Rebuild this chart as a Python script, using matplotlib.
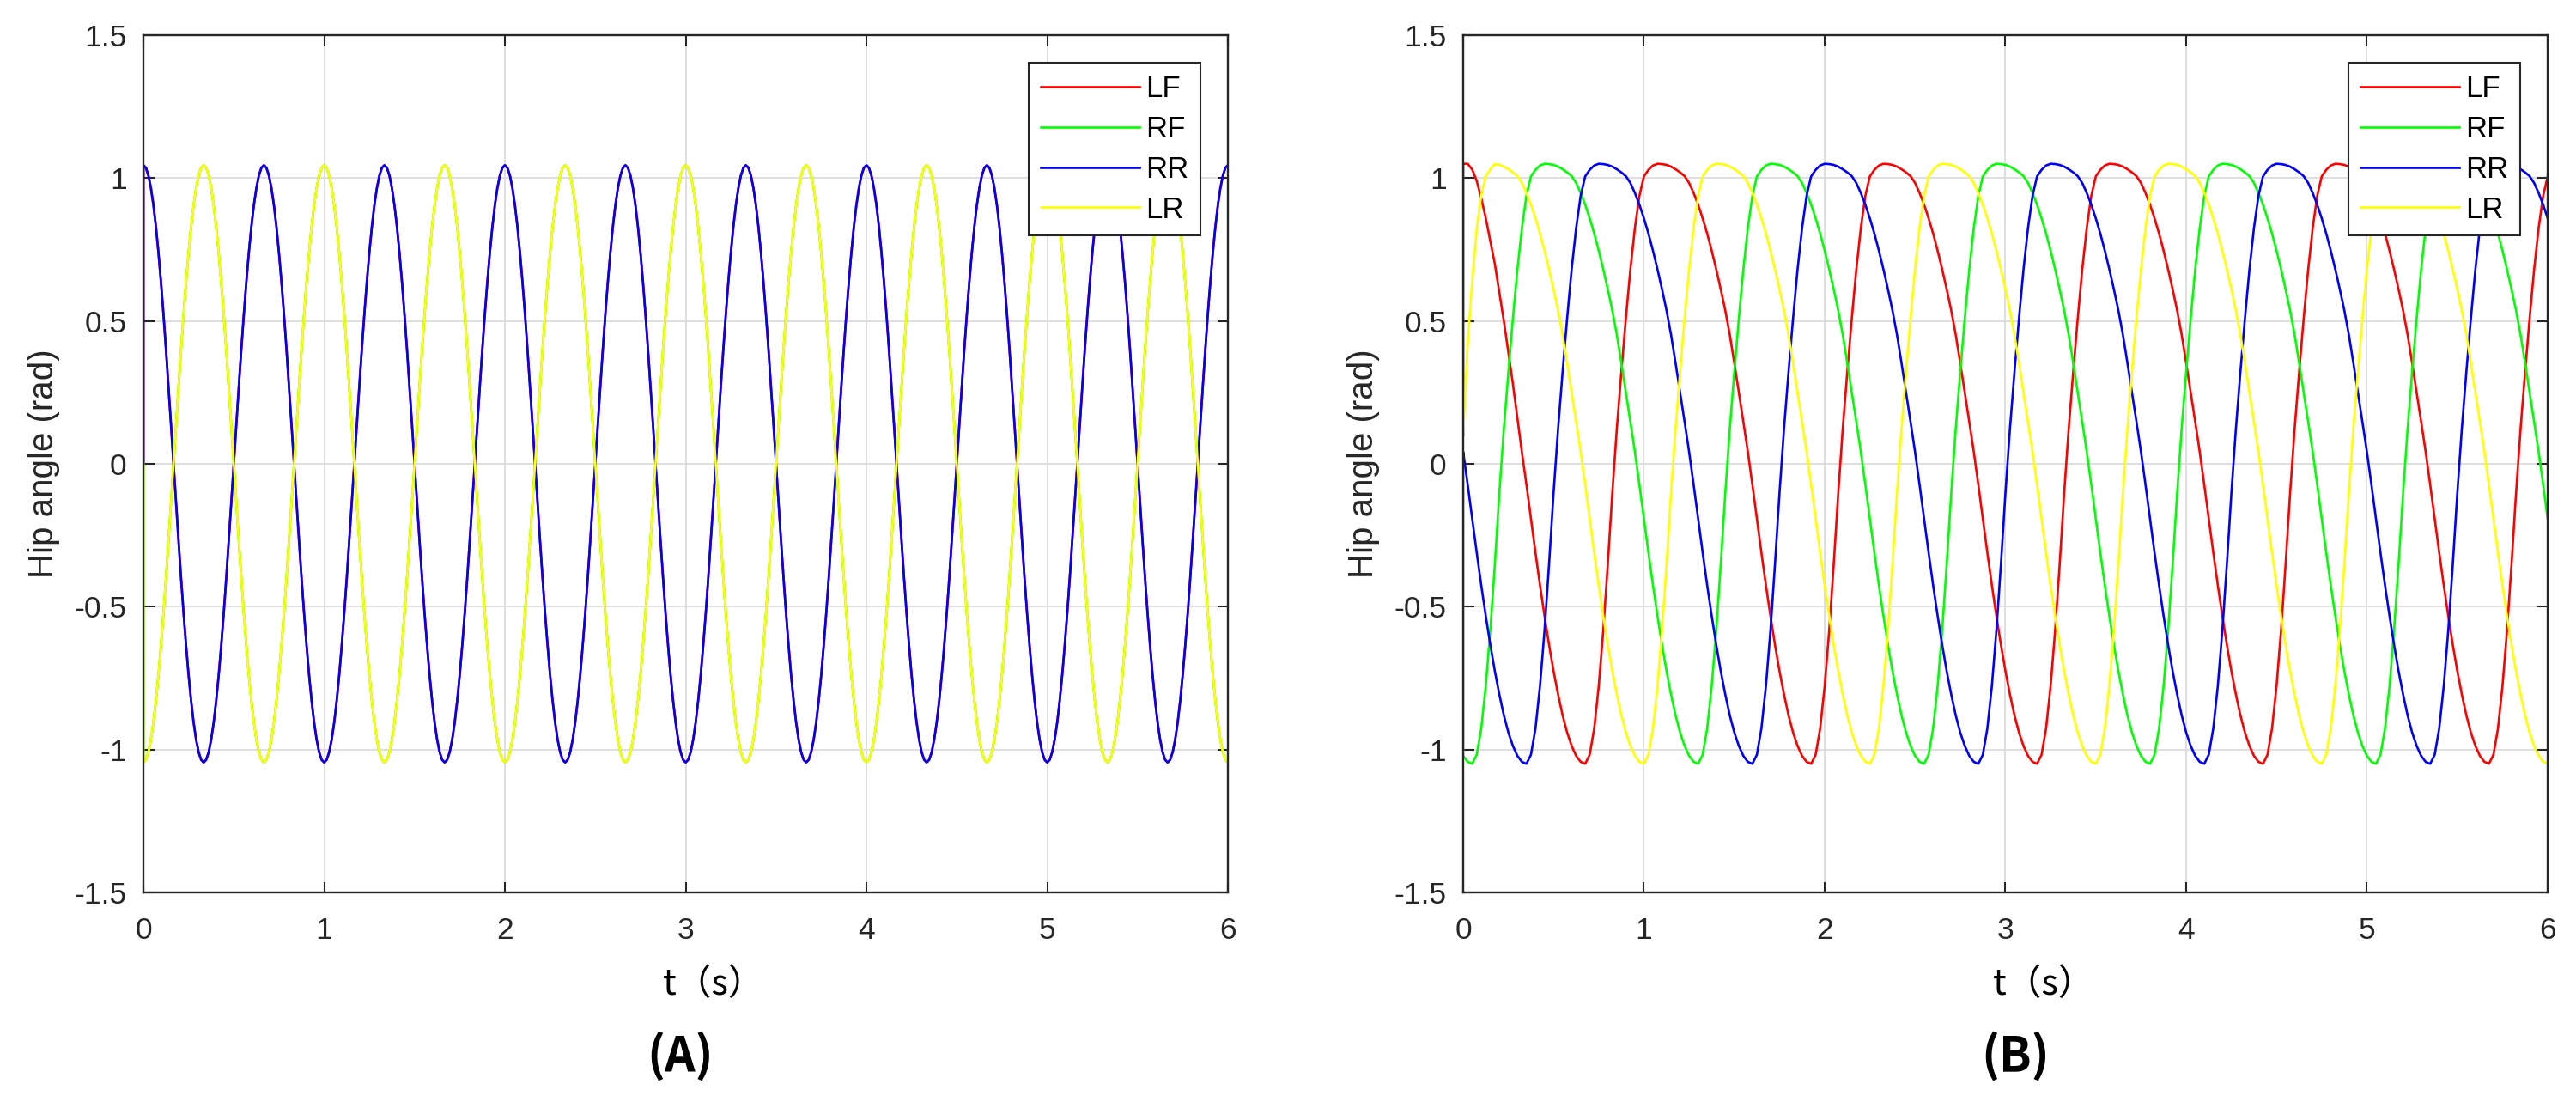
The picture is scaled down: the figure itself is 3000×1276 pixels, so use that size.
import matplotlib.pyplot as plt
import numpy as np

plt.rcParams['font.family'] = ['Liberation Sans', 'DejaVu Sans']
plt.rcParams['axes.unicode_minus'] = False

# ---------------- data ----------------
legs = ['LF', 'RF', 'RR', 'LR']
t_end = 6.0

# (A) trot: one cycle of the hip angle (rad), starting at the trough
trot_period = 2.0 / 3.0
trot_cycle = [-1.045, -1.036, -1.009, -0.965, -0.905, -0.829, -0.739, -0.636,
              -0.523, -0.400, -0.270, -0.136, 0.0, 0.136, 0.270, 0.400,
              0.523, 0.636, 0.739, 0.829, 0.905, 0.965, 1.009, 1.036,
              1.045, 1.036, 1.009, 0.965, 0.905, 0.829, 0.739, 0.636,
              0.523, 0.400, 0.270, 0.136, 0.0, -0.136, -0.270, -0.400,
              -0.523, -0.636, -0.739, -0.829, -0.905, -0.965, -1.009, -1.036]
trot_trough = [0.333, 0.0, 0.333, 0.0]     # time of a trough for LF, RF, RR, LR
trot_start = [0.0, 0.0, 0.0, 0.0]          # value at t=0
trot_lead = [[], [], [], []]               # first samples (start-up), none here

# (B) walk: one cycle (fast swing, slow stance), starting at the trough
walk_period = 1.25
walk_cycle = [-1.050, -1.018, -0.926, -0.778, -0.584, -0.353, -0.103, 0.122,
              0.321, 0.508, 0.680, 0.825, 0.938, 1.006, 1.029, 1.044,
              1.050, 1.049, 1.046, 1.040, 1.031, 1.020, 1.007, 0.983,
              0.948, 0.907, 0.859, 0.806, 0.746, 0.681, 0.611, 0.537,
              0.452, 0.353, 0.251, 0.147, 0.042, -0.073, -0.193, -0.311,
              -0.425, -0.532, -0.633, -0.725, -0.807, -0.880, -0.940, -0.987,
              -1.022, -1.043]
walk_trough = [0.68, 0.055, 0.36, 0.99]
walk_start = [0.1, 0.0, 0.0, 0.1]
walk_lead = [[1.05, 1.05, 1.03, 0.99, 0.93, 0.86, 0.78, 0.70, 0.60, 0.50,
              0.39, 0.28, 0.16, 0.04],
             [],
             [],
             [0.1, 0.42, 0.64, 0.82, 0.94, 1.006, 1.03]]

x_ticks = [0, 1, 2, 3, 4, 5, 6]
x_tick_labels = ['0', '1', '2', '3', '4', '5', '6']
y_ticks = [-1.5, -1, -0.5, 0, 0.5, 1, 1.5]
y_tick_labels = ['-1.5', '-1', '-0.5', '0', '0.5', '1', '1.5']

# ---------------- styling ----------------
leg_colors = ['#ff0000', '#00ff00', '#0000ff', '#ffff00']
dark = '#262626'


def build(cycle, period, trough, y0, lead):
    # repeat the read cycle from the phase the leg has at t=0
    n = len(cycle)
    step = period / n
    i0 = int(round(((-trough) % period) / step)) % n
    k = np.arange(int(round(t_end / step)) + 1)
    vals = np.take(cycle, (i0 + k) % n)
    vals[:len(lead)] = lead
    t = np.concatenate([[0.0], k * step])
    y = np.concatenate([[y0], vals])
    return t, y


def draw_panel(ax, cycle, period, troughs, starts, leads):
    for i, leg in enumerate(legs):
        t, y = build(cycle, period, troughs[i], starts[i], leads[i])
        ax.plot(t, y, color=leg_colors[i], lw=1.9, label=leg)

    ax.set_xlim(0, 6)
    ax.set_ylim(-1.5, 1.5)
    ax.set_xticks(x_ticks)
    ax.set_xticklabels(x_tick_labels)
    ax.set_yticks(y_ticks)
    ax.set_yticklabels(y_tick_labels)
    ax.grid(True, color='#d9d9d9', lw=1.2)
    ax.set_axisbelow(True)
    ax.tick_params(direction='in', length=9, width=1.5, top=True, right=True,
                   labelsize=25.5, colors=dark)
    ax.tick_params(axis='x', pad=20)
    ax.tick_params(axis='y', pad=14)
    for s in ax.spines.values():
        s.set_linewidth(1.7)
        s.set_color(dark)

    ax.set_ylabel('Hip angle (rad)', fontsize=29, color=dark)
    ax.yaxis.set_label_coords(-0.077, 0.5)

    leg = ax.legend(loc='upper right', bbox_to_anchor=(1 - 32 / 1263, 1 - 32 / 998),
                    borderaxespad=0, fancybox=False, framealpha=1, edgecolor=dark,
                    handlelength=3.3, handletextpad=0.2, labelspacing=0.4,
                    borderpad=0.4, fontsize=25)
    leg.get_frame().set_linewidth(1.5)


fig = plt.figure(figsize=(30, 12.76), dpi=100)
axA = fig.add_axes([167 / 3000, 1 - 1039 / 1276, 1263 / 3000, 998 / 1276])
axB = fig.add_axes([1704 / 3000, 1 - 1039 / 1276, 1263 / 3000, 998 / 1276])

draw_panel(axA, trot_cycle, trot_period, trot_trough, trot_start, trot_lead)
draw_panel(axB, walk_cycle, walk_period, walk_trough, walk_start, walk_lead)

cjk = ['Noto Sans CJK SC', 'DejaVu Sans']
fig.text(831 / 3000, 1 - 1147 / 1276, 't（s）', family=cjk, fontsize=30,
         ha='center', va='center', color='black')
fig.text(2380 / 3000, 1 - 1147 / 1276, 't（s）', family=cjk, fontsize=30,
         ha='center', va='center', color='black')
fig.text(792 / 3000, 1 - 1230 / 1276, '(A)', family=cjk, fontsize=40,
         fontweight='bold', ha='center', va='center', color='black')
fig.text(2347 / 3000, 1 - 1230 / 1276, '(B)', family=cjk, fontsize=40,
         fontweight='bold', ha='center', va='center', color='black')

fig.savefig('out.png', dpi=100, facecolor='white')
